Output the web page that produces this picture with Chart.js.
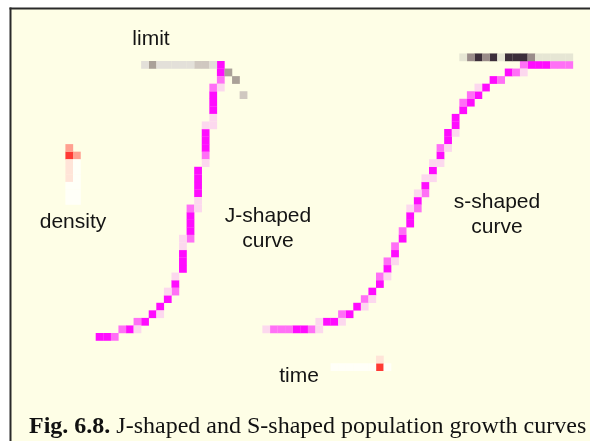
<!DOCTYPE html>
<html>
<head>
<meta charset="utf-8">
<script src="https://cdn.jsdelivr.net/npm/chart.js@4/dist/chart.umd.min.js"></script>
<style>
  html, body { margin: 0; padding: 0; background: #ffffff; }
  canvas { display: block; }
</style>
</head>
<body>
<canvas id="growth-chart" width="590" height="441"></canvas>
<script>
// cells of the rasterised figure: [time, density]
// J-shaped curve
var jCore = [[0,0],[1,0],[4,1],[6,2],[7,3],[8,4],[9,5],[10,7],[11,9],[11,10],[11,11],[12,14],[12,15],[12,16],
             [13,19],[13,20],[13,21],[13,22],[14,25],[14,26],[14,27],[15,30],[15,31],[15,32],[16,35],[16,36]];
var jMid = [[2,0],[3,1],[5,2],[10,6],[12,13],[12,17],[14,24],[15,33],[16,34]];
var jPale = [[5,1],[8,3],[9,6],[10,8],[11,12],[11,13],[13,17],[13,18],[14,23],[14,28],[15,28],[15,29],[16,33]];

// S-shaped curve
var sCore = [[26,1],[27,1],[30,2],[31,2],[33,3],[34,4],[36,6],[37,7],[38,9],[39,11],[40,13],[41,15],[41,16],
             [42,18],[43,20],[44,22],[45,24],[46,26],[46,27],[47,28],[47,29],[48,30],[49,31],[50,32],[51,33],
             [52,34],[54,35],[57,36],[58,36],[59,36]];
var sMid = [[23,1],[24,1],[25,1],[28,1],[32,3],[35,5],[37,8],[38,10],[39,12],[40,14],[42,17],[43,19],[45,25],
            [48,31],[49,32],[53,34],[55,35],[56,36],[60,36],[61,36],[62,36]];
var sPale = [[22,1],[29,1],[29,2],[32,2],[35,4],[36,5],[38,8],[39,10],[41,17],[42,19],[43,21],[44,21],[44,23],
             [45,23],[46,25],[47,27],[50,33],[56,35]];

// carrying capacity ("limit") lines
var jLimitDark = [[7,36],[17,35],[18,34]];
var jLimitMid = [[13,36],[14,36],[19,32]];
var jLimitLight = [[6,36],[8,36],[9,36],[10,36],[11,36],[12,36],[15,36]];
var sLimitDark = [[50,37],[52,37],[54,37],[55,37],[56,37]];
var sLimitMid = [[49,37],[51,37],[57,37]];
var sLimitLight = [[48,37],[53,37],[58,37],[59,37],[60,37],[61,37],[62,37]];

// the two axis arrows (density up, time right)
var arrowTips = [[-4,24],[37,-4]];
var arrowGlow = [[-3,24],[-4,25]];
var arrowShaft = [[-4,23],[-4,22],[-4,21],[37,-3]];
var arrowWhite = [[-4,20],[-4,19],[-4,18],[-3,23],[-3,22],[-3,21],[-3,20],[-3,19],[-3,18],
                  [31,-4],[32,-4],[33,-4],[34,-4],[35,-4],[36,-4],[38,-4]];

var labels = [
    {text: "limit", x: 151, y: 45},
    {text: "density", x: 73, y: 228},
    {text: "J-shaped", x: 268, y: 222},
    {text: "curve", x: 268, y: 247},
    {text: "s-shaped", x: 497, y: 208},
    {text: "curve", x: 497, y: 233},
    {text: "time", x: 299, y: 382}
];

function cells(name, list, color) {
    return {
        label: name,
        data: list.map(function(c) { return {x: c[0], y: c[1]}; }),
        pointStyle: 'rect',
        pointRadius: 5.5,
        pointHoverRadius: 5.5,
        pointBorderWidth: 0,
        backgroundColor: color,
        borderColor: color,
        clip: false
    };
}

var figurePlugin = {
    id: 'figure',
    beforeDraw: function(chart) {
        var ctx = chart.ctx;
        ctx.save();
        ctx.fillStyle = '#ffffff';
        ctx.fillRect(0, 0, chart.width, chart.height);
        ctx.fillStyle = '#fefee6';
        ctx.fillRect(11, 9, chart.width - 11, chart.height - 9);
        // frame, only top and left show in the crop
        ctx.fillStyle = '#2a2a2a';
        ctx.fillRect(9.5, 7.5, chart.width - 9.5, 2);
        ctx.fillRect(9.5, 7.5, 2, chart.height - 7.5);
        ctx.restore();
    },
    afterDraw: function(chart) {
        var ctx = chart.ctx;
        ctx.save();
        ctx.fillStyle = '#141414';
        ctx.font = '21px "Liberation Sans", Arial, sans-serif';
        ctx.textAlign = 'center';
        ctx.textBaseline = 'alphabetic';
        labels.forEach(function(l) { ctx.fillText(l.text, l.x, l.y); });

        // caption
        ctx.textAlign = 'left';
        ctx.fillStyle = '#111111';
        ctx.font = 'bold 24px "Liberation Serif", "Times New Roman", serif';
        var bold = 'Fig. 6.8.';
        ctx.fillText(bold, 29, 433);
        var w = ctx.measureText(bold).width;
        ctx.font = '24px "Liberation Serif", "Times New Roman", serif';
        ctx.fillText(' J-shaped and S-shaped population growth curves', 29 + w, 433);
        ctx.restore();
    }
};

var ctx = document.getElementById("growth-chart").getContext("2d");
var growthChart = new Chart(ctx, {
    type: 'scatter',
    data: {
        datasets: [
            cells('arrow white', arrowWhite, '#fffff8'),
            cells('arrow shaft', arrowShaft, '#ffe4d8'),
            cells('arrow glow', arrowGlow, '#ffa090'),
            cells('arrow tip', arrowTips, '#ff3a34'),
            cells('J limit light', jLimitLight, '#e3e0d9'),
            cells('J limit mid', jLimitMid, '#d0c8c0'),
            cells('J limit dark', jLimitDark, '#aaa198'),
            cells('S limit light', sLimitLight, '#e6e6d4'),
            cells('S limit mid', sLimitMid, '#9a8c8a'),
            cells('S limit dark', sLimitDark, '#3c2e3a'),
            cells('J pale', jPale, '#fcd8ee'),
            cells('J mid', jMid, '#ff70f6'),
            cells('J-shaped curve', jCore, '#ff0cff'),
            cells('S pale', sPale, '#fcd8ee'),
            cells('S mid', sMid, '#ff70f6'),
            cells('S-shaped curve', sCore, '#ff0cff')
        ]
    },
    options: {
        responsive: false,
        animation: false,
        events: [],
        layout: { padding: 0 },
        plugins: {
            legend: { display: false },
            tooltip: { enabled: false }
        },
        scales: {
            x: { type: 'linear', display: false, min: -12.42, max: 64.01 },
            y: { type: 'linear', display: false, min: -13.05, max: 43.86 }
        }
    },
    plugins: [figurePlugin]
});
</script>
</body>
</html>
